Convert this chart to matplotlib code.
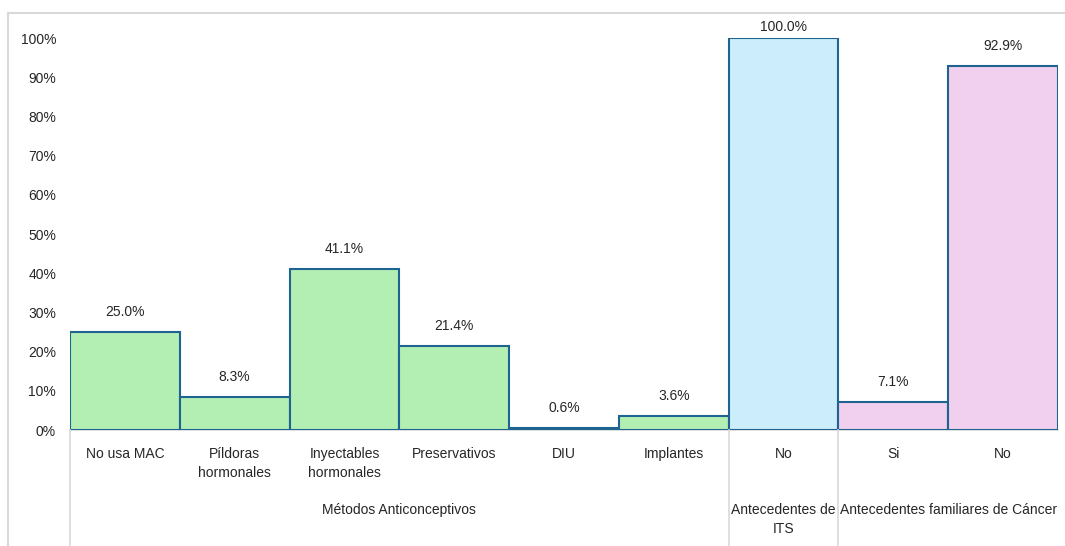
import matplotlib
matplotlib.use("Agg")
import matplotlib.pyplot as plt
from matplotlib.lines import Line2D
from matplotlib import font_manager

categories = ["No usa MAC", "Píldoras\nhormonales", "Inyectables\nhormonales",
              "Preservativos", "DIU", "Implantes", "No", "Si", "No"]
values = [25.0, 8.3, 41.1, 21.4, 0.6, 3.6, 100.0, 7.1, 92.9]
groups = ["Métodos Anticonceptivos", "Antecedentes de\nITS",
          "Antecedentes familiares de Cáncer"]
group_sizes = [6, 1, 2]
group_colors = ["#B3EEB3", "#CCEDFB", "#F0D0EE"]
yticks = [0, 10, 20, 30, 40, 50, 60, 70, 80, 90, 100]

names = {f.name for f in font_manager.fontManager.ttflist}
narrow = "Liberation Sans Narrow" in names
plt.rcParams["font.family"] = (["Liberation Sans Narrow"] if narrow else []) + \
    ["Liberation Sans", "DejaVu Sans"]
fs = 12 if narrow else 10
text_color = "#262626"
edge_color = "#1F6391"
axis_gray = "#D9D9D9"

W, H = 1065, 546
fig = plt.figure(figsize=(W / 100, H / 100), dpi=100)
ax = fig.add_axes([70 / W, 1 - 430 / H, (1058 - 70) / W, (430 - 38) / H])

bar_colors = []
for c, n in zip(group_colors, group_sizes):
    bar_colors += [c] * n

x = list(range(len(values)))
ax.bar(x, values, width=1.0, color=bar_colors, edgecolor=edge_color,
       linewidth=1.5, zorder=2)

ax.set_xlim(-0.5, len(values) - 0.5)
ax.set_ylim(0, 100)

# Value labels sit above each bar, kept inside the chart frame
px_per_unit = (430 - 38) / 100
for xi, v in zip(x, values):
    top_px = 430 - v * px_per_unit          # bar top, pixels from figure top
    label_bottom = max(top_px - 13, 34)
    offset_pt = (top_px - label_bottom) * 72 / 100
    ax.annotate(f"{v:.1f}%", xy=(xi, v), xytext=(0, offset_pt),
                textcoords="offset points", ha="center", va="bottom",
                fontsize=fs, color=text_color, annotation_clip=False)

ax.set_yticks(yticks)
ax.set_yticklabels([f"{t}%" for t in yticks], fontsize=fs, color=text_color)
ax.tick_params(axis="y", length=0, pad=10)
ax.set_xticks([])
for s in ["top", "right", "left"]:
    ax.spines[s].set_visible(False)
ax.spines["bottom"].set_color(axis_gray)
ax.spines["bottom"].set_linewidth(1.2)
ax.spines["bottom"].set_zorder(1)

# Multi-level category axis: item labels, group labels and separators
trans = ax.get_xaxis_transform()
for xi, lab in zip(x, categories):
    ax.annotate(lab, xy=(xi, 0), xycoords=trans, xytext=(0, -12.5),
                textcoords="offset points", ha="center", va="top",
                fontsize=fs, color=text_color, linespacing=1.45)

start = 0
bounds = [-0.5]
for g, n in zip(groups, group_sizes):
    center = start + (n - 1) / 2
    ax.annotate(g, xy=(center, 0), xycoords=trans, xytext=(0, -52.5),
                textcoords="offset points", ha="center", va="top",
                fontsize=fs, color=text_color, linespacing=1.5)
    start += n
    bounds.append(start - 0.5)

for b in bounds[:-1]:
    ax.add_line(Line2D([b, b], [0, -0.30], transform=trans, color=axis_gray,
                       linewidth=1.2, clip_on=False))

# Chart frame
fig.add_artist(Line2D([8 / W, 8 / W], [0, 1 - 13 / H], transform=fig.transFigure,
                      color=axis_gray, linewidth=1.5))
fig.add_artist(Line2D([8 / W, 1], [1 - 13 / H, 1 - 13 / H], transform=fig.transFigure,
                      color=axis_gray, linewidth=1.5))

fig.savefig("out.png", dpi=100, facecolor="white")
